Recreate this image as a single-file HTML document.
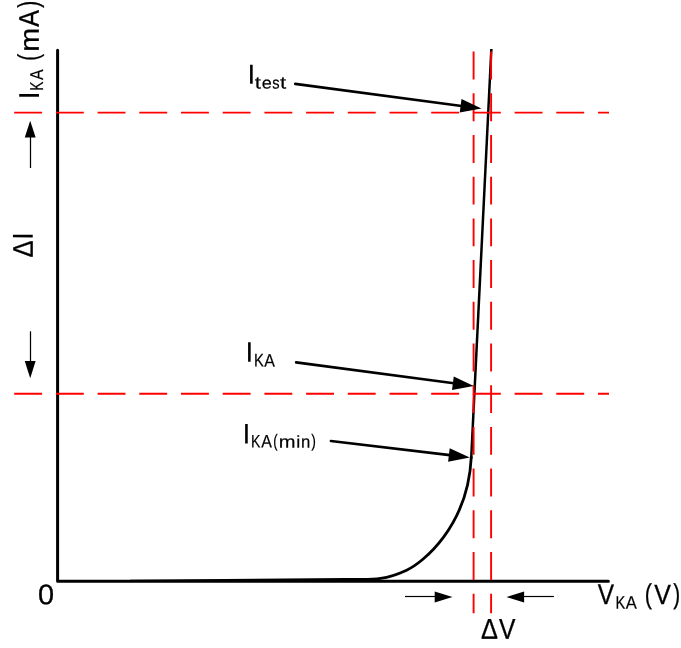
<!DOCTYPE html>
<html><head><meta charset="utf-8"><title>IKA vs VKA</title>
<style>html,body{margin:0;padding:0;background:#fff}svg{display:block}text{font-family:"Liberation Sans",Arial,sans-serif;fill:#000}</style>
</head><body>
<svg width="681" height="648" viewBox="0 0 681 648">
<rect width="681" height="648" fill="#fff"/>
<path d="M57.6 50.2 V581.3 H608.4" fill="none" stroke="#000" stroke-width="3" stroke-linejoin="round" stroke-linecap="round"/>
<path d="M491.35 49.0 L471.2 458.5" fill="none" stroke="#000" stroke-width="2.5" stroke-linecap="butt" stroke-linejoin="round"/>
<path d="M471.3 456.5 L471.25 457.45 C467.84 526.86 422.38 562.90 406.60 570.15 C381.98 581.45 372.13 579.3 344 579.3" fill="none" stroke="#000" stroke-width="2.8" stroke-linecap="butt" stroke-linejoin="round"/>
<g stroke="#f00" stroke-width="1.9" fill="none" stroke-dasharray="27.9 13.8">
<line x1="14.2" y1="112.65" x2="609" y2="112.65"/>
<line x1="14.2" y1="393.8" x2="609" y2="393.8"/>
<line x1="473.6" y1="51.6" x2="473.6" y2="613.2"/>
<line x1="491.1" y1="51.6" x2="491.1" y2="613.2"/>
</g>
<polygon points="345,577.9 345,581 130,581 130,579.75" fill="#000"/>
<line x1="295.20" y1="83.90" x2="461.62" y2="105.93" stroke="#000" stroke-width="2.6" stroke-linecap="round"/><polygon points="481.45,108.55 459.74,112.54 461.52,99.05" fill="#000"/>
<line x1="296.10" y1="362.40" x2="453.87" y2="383.32" stroke="#000" stroke-width="2.6" stroke-linecap="round"/><polygon points="473.70,385.95 451.99,389.93 453.78,376.45" fill="#000"/>
<line x1="330.90" y1="441.00" x2="449.89" y2="455.14" stroke="#000" stroke-width="2.6" stroke-linecap="round"/><polygon points="469.75,457.50 448.09,461.77 449.70,448.27" fill="#000"/>
<line x1="30.50" y1="168.00" x2="30.50" y2="136.40" stroke="#000" stroke-width="1.25" stroke-linecap="butt"/><polygon points="30.20,120.70 35.65,137.40 24.75,137.40" fill="#000"/>
<line x1="30.50" y1="331.30" x2="30.50" y2="362.10" stroke="#000" stroke-width="1.25" stroke-linecap="butt"/><polygon points="30.20,378.30 24.75,361.10 35.65,361.10" fill="#000"/>
<line x1="405.00" y1="596.50" x2="435.70" y2="596.50" stroke="#000" stroke-width="1.2" stroke-linecap="butt"/><polygon points="452.50,597.05 434.70,602.50 434.70,591.60" fill="#000"/>
<line x1="553.90" y1="596.50" x2="523.10" y2="596.50" stroke="#000" stroke-width="1.2" stroke-linecap="butt"/><polygon points="506.50,597.05 524.10,591.60 524.10,602.50" fill="#000"/>
<text transform="translate(247.48 83.70) rotate(0.04)"><tspan x="0.00" y="0.00" font-size="27.47" textLength="7.75" lengthAdjust="spacingAndGlyphs">I</tspan><tspan x="7.38" y="4.67" font-size="17.19" textLength="6.20" lengthAdjust="spacingAndGlyphs" stroke="#000" stroke-width="0.2">t</tspan><tspan x="14.25" y="4.74" font-size="16.61" textLength="10.07" lengthAdjust="spacingAndGlyphs" stroke="#000" stroke-width="0.2">e</tspan><tspan x="24.71" y="4.74" font-size="16.65" textLength="7.34" lengthAdjust="spacingAndGlyphs" stroke="#000" stroke-width="0.2">s</tspan><tspan x="32.48" y="4.67" font-size="17.19" textLength="6.20" lengthAdjust="spacingAndGlyphs" stroke="#000" stroke-width="0.2">t</tspan></text>
<text transform="translate(245.58 361.80) rotate(0.04)"><tspan x="0.00" y="0.00" font-size="28.49" textLength="7.75" lengthAdjust="spacingAndGlyphs">I</tspan><tspan x="8.41" y="4.80" font-size="18.31" textLength="9.88" lengthAdjust="spacingAndGlyphs" stroke="#000" stroke-width="0.2">K</tspan><tspan x="18.69" y="4.80" font-size="18.31" textLength="10.66" lengthAdjust="spacingAndGlyphs" stroke="#000" stroke-width="0.2">A</tspan></text>
<text transform="translate(242.53 443.40) rotate(0.04)"><tspan x="0.00" y="0.00" font-size="28.20" textLength="7.89" lengthAdjust="spacingAndGlyphs">I</tspan><tspan x="8.41" y="4.20" font-size="18.17" textLength="9.42" lengthAdjust="spacingAndGlyphs" stroke="#000" stroke-width="0.2">K</tspan><tspan x="18.84" y="4.20" font-size="18.17" textLength="10.66" lengthAdjust="spacingAndGlyphs" stroke="#000" stroke-width="0.2">A</tspan><tspan x="30.85" y="3.67" font-size="18.03" textLength="4.40" lengthAdjust="spacingAndGlyphs" stroke="#000" stroke-width="0.2">(</tspan><tspan x="36.24" y="4.20" font-size="17.66" textLength="16.76" lengthAdjust="spacingAndGlyphs" stroke="#000" stroke-width="0.2">m</tspan><tspan x="53.65" y="4.20" font-size="17.25" textLength="4.04" lengthAdjust="spacingAndGlyphs" stroke="#000" stroke-width="0.2">i</tspan><tspan x="58.46" y="4.20" font-size="17.66" textLength="9.30" lengthAdjust="spacingAndGlyphs" stroke="#000" stroke-width="0.2">n</tspan><tspan x="68.79" y="3.67" font-size="18.03" textLength="4.65" lengthAdjust="spacingAndGlyphs" stroke="#000" stroke-width="0.2">)</tspan></text>
<text transform="translate(38.12 604.27) rotate(0.04)"><tspan x="0.00" y="0.00" font-size="28.53" textLength="16.06" lengthAdjust="spacingAndGlyphs" stroke="#000" stroke-width="0.3">0</tspan></text>
<text transform="translate(597.84 603.95) rotate(0.04)"><tspan x="0.00" y="0.00" font-size="28.34" textLength="16.31" lengthAdjust="spacingAndGlyphs" stroke="#000" stroke-width="0.3">V</tspan><tspan x="17.56" y="4.75" font-size="18.31" textLength="9.77" lengthAdjust="spacingAndGlyphs" stroke="#000" stroke-width="0.2">K</tspan><tspan x="28.03" y="4.75" font-size="18.31" textLength="11.06" lengthAdjust="spacingAndGlyphs" stroke="#000" stroke-width="0.2">A</tspan> <tspan x="46.87" y="-0.60" font-size="28.02" textLength="7.16" lengthAdjust="spacingAndGlyphs" stroke="#000" stroke-width="0.3">(</tspan><tspan x="56.30" y="-0.05" font-size="27.62" textLength="16.62" lengthAdjust="spacingAndGlyphs" stroke="#000" stroke-width="0.3">V</tspan><tspan x="75.39" y="-0.60" font-size="28.02" textLength="6.91" lengthAdjust="spacingAndGlyphs" stroke="#000" stroke-width="0.3">)</tspan></text>
<text transform="translate(480.90 638.65) rotate(0.04)"><tspan x="0.00" y="0.00" font-size="28.63" textLength="16.92" lengthAdjust="spacingAndGlyphs" stroke="#000" stroke-width="0.3">Δ</tspan><tspan x="18.05" y="0.00" font-size="28.63" textLength="16.42" lengthAdjust="spacingAndGlyphs" stroke="#000" stroke-width="0.3">V</tspan></text>
<text transform="translate(32.65 257.41) rotate(-89.96)"><tspan x="0.00" y="0.00" font-size="28.34" textLength="17.14" lengthAdjust="spacingAndGlyphs" stroke="#000" stroke-width="0.3">Δ</tspan><tspan x="17.39" y="0.15" font-size="28.78" textLength="7.89" lengthAdjust="spacingAndGlyphs">I</tspan></text>
<text transform="translate(38.90 99.62) rotate(-89.96)"><tspan x="0.00" y="0.00" font-size="28.78" textLength="8.19" lengthAdjust="spacingAndGlyphs">I</tspan><tspan x="8.89" y="4.20" font-size="18.60" textLength="9.18" lengthAdjust="spacingAndGlyphs" stroke="#000" stroke-width="0.2">K</tspan><tspan x="19.59" y="4.20" font-size="18.60" textLength="10.66" lengthAdjust="spacingAndGlyphs" stroke="#000" stroke-width="0.2">A</tspan> <tspan x="38.78" y="-1.01" font-size="28.77" textLength="6.91" lengthAdjust="spacingAndGlyphs" stroke="#000" stroke-width="0.3">(</tspan><tspan x="47.76" y="-0.15" font-size="27.32" textLength="24.01" lengthAdjust="spacingAndGlyphs" stroke="#000" stroke-width="0.3">m</tspan><tspan x="72.82" y="-0.15" font-size="28.34" textLength="16.70" lengthAdjust="spacingAndGlyphs" stroke="#000" stroke-width="0.3">A</tspan><tspan x="91.95" y="-1.01" font-size="28.77" textLength="6.91" lengthAdjust="spacingAndGlyphs" stroke="#000" stroke-width="0.3">)</tspan></text>
</svg>
</body></html>
